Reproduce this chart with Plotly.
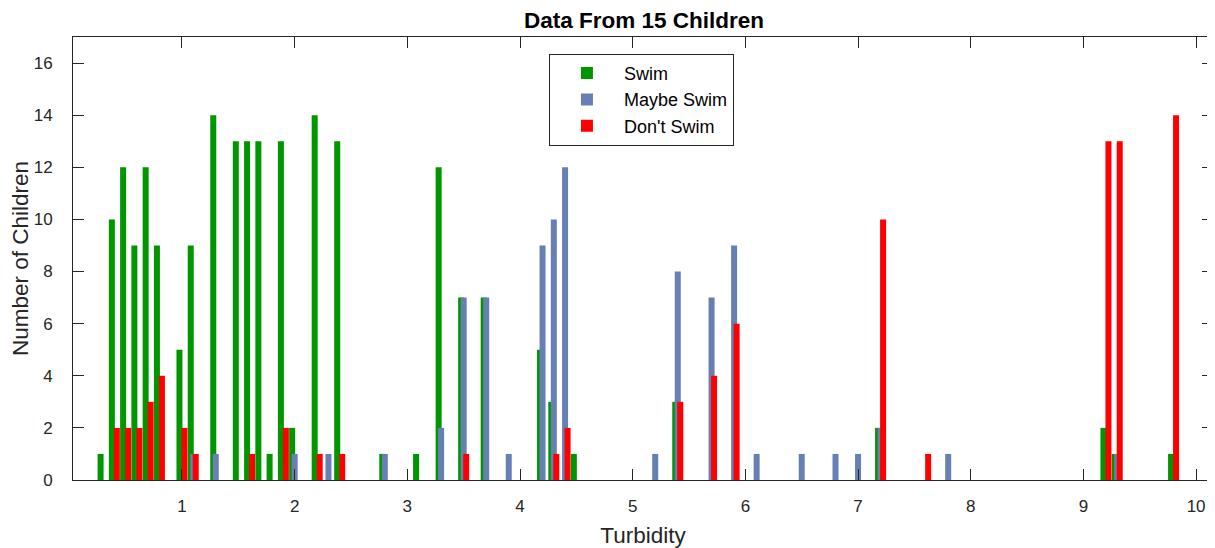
import plotly.graph_objects as go

# Turbidity groups (only groups with at least one child)
turbidity = [0.3, 0.4, 0.5, 0.6, 0.7, 0.8, 1.0, 1.1, 1.3, 1.5, 1.6, 1.7, 1.8, 1.9,
             2.0, 2.2, 2.3, 2.4, 2.8, 3.1, 3.3, 3.5, 3.7, 3.9, 4.2, 4.3, 4.4, 4.5,
             5.2, 5.4, 5.7, 5.9, 6.1, 6.5, 6.8, 7.0, 7.2, 7.6, 7.8, 9.2, 9.3, 9.8]

swim = [1, 10, 12, 9, 12, 9, 5, 9, 14, 13, 13, 13, 1, 13,
        2, 14, 0, 13, 1, 1, 12, 7, 7, 0, 5, 3, 0, 1,
        0, 3, 0, 0, 0, 0, 0, 0, 2, 0, 0, 2, 1, 1]

maybe_swim = [0, 0, 0, 0, 0, 0, 0, 1, 1, 0, 0, 0, 0, 0,
              1, 0, 1, 0, 1, 0, 2, 7, 7, 1, 9, 10, 12, 0,
              1, 8, 7, 9, 1, 1, 1, 1, 2, 0, 1, 0, 1, 0]

dont_swim = [0, 2, 2, 2, 3, 4, 2, 1, 0, 0, 1, 0, 0, 2,
             0, 1, 0, 1, 0, 0, 0, 1, 0, 0, 0, 1, 2, 0,
             0, 3, 4, 6, 0, 0, 0, 0, 10, 1, 0, 13, 13, 14]

x_ticks = [1, 2, 3, 4, 5, 6, 7, 8, 9, 10]
y_ticks = [0, 2, 4, 6, 8, 10, 12, 14, 16]

names = ["Swim", "Maybe Swim", "Don't Swim"]
colors = ["#009600", "#667FB5", "#FF0000"]

# grouped-bar geometry (MATLAB style: 3 bars per group, overlapping)
bar_w = 0.0533
shift = 0.0222
offsets = [-shift - bar_w / 2, -bar_w / 2, shift - bar_w / 2]

fig = go.Figure()
for name, vals, col, off in zip(names, [swim, maybe_swim, dont_swim], colors, offsets):
    fig.add_trace(go.Bar(
        x=turbidity, y=vals, name=name,
        width=bar_w, offset=off,
        marker=dict(color=col, line=dict(width=0)),
    ))

axis_col = "#262626"
font_family = "Arial, Liberation Sans, Helvetica, sans-serif"

# page body adds an 8px margin, so the figure is sized/offset to compensate
fig.update_layout(
    width=1207, height=540,
    barmode="overlay",
    plot_bgcolor="white", paper_bgcolor="white",
    margin=dict(l=65, r=2, t=29, b=68, autoexpand=False),
    title=dict(text="<b>Data From 15 Children</b>", x=0.527, xanchor="center",
               yref="container", y=0.977, yanchor="middle",
               font=dict(family=font_family, size=22.5, color="black")),
    font=dict(family=font_family, color=axis_col),
    legend=dict(
        x=0.4175, y=0.962, xanchor="left", yanchor="top",
        bgcolor="white", bordercolor="#262626", borderwidth=1,
        font=dict(size=18, color="black"),
        itemwidth=64, tracegroupgap=0,
    ),
    showlegend=True,
)

fig.update_xaxes(
    range=[0.033, 10.15], automargin=False,
    tickvals=x_ticks, ticks="inside", ticklen=11, tickcolor=axis_col,
    showline=True, linecolor=axis_col, linewidth=1, mirror="ticks",
    showgrid=False, zeroline=False, ticklabelstandoff=11,
    tickfont=dict(size=17, color=axis_col),
    title=dict(text="Turbidity", font=dict(size=22.5, color=axis_col), standoff=12),
)
fig.update_yaxes(
    range=[0, 17], automargin=False,
    tickvals=y_ticks, ticks="inside", ticklen=11, tickcolor=axis_col,
    showline=True, linecolor=axis_col, linewidth=1, mirror="ticks",
    showgrid=False, zeroline=False, ticklabelstandoff=16,
    tickfont=dict(size=17, color=axis_col),
    title=dict(text="Number of Children", font=dict(size=22.5, color=axis_col), standoff=4),
)

fig.write_html("out.html")
